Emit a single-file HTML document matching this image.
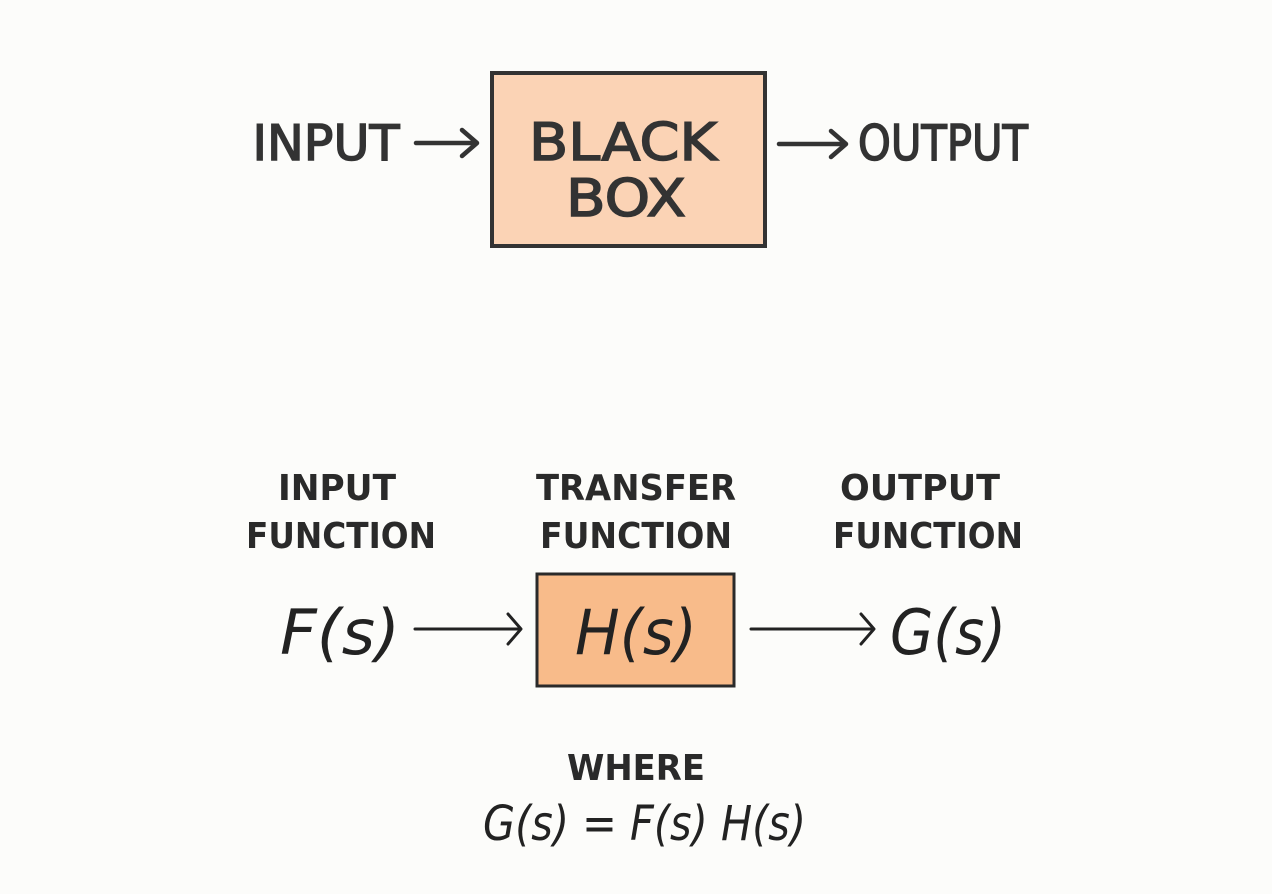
<!DOCTYPE html>
<html><head><meta charset="utf-8"><style>
html,body{margin:0;padding:0;background:#fcfcfa;}
svg{display:block}
</style></head><body>
<svg width="1272" height="894" viewBox="0 0 1272 894" xmlns="http://www.w3.org/2000/svg">
<rect width="1272" height="894" fill="#fcfcfa"/>
<g font-family="'DejaVu Sans','Liberation Sans',sans-serif" fill="#333" stroke="#333" stroke-width="1.5">
<text x="326" y="160" font-size="49" text-anchor="middle" textLength="147" lengthAdjust="spacingAndGlyphs">INPUT</text>
<text x="943" y="160" font-size="49" text-anchor="middle" textLength="170" lengthAdjust="spacingAndGlyphs">OUTPUT</text>
</g>
<rect x="492" y="73" width="273" height="173" fill="#fbd3b5" stroke="#333" stroke-width="4"/>
<g font-family="'DejaVu Sans','Liberation Sans',sans-serif" fill="#333" stroke="#333" stroke-width="1.5" font-size="52" text-anchor="middle">
<text x="623" y="160" textLength="188" lengthAdjust="spacingAndGlyphs">BLACK</text>
<text x="626" y="216" textLength="120" lengthAdjust="spacingAndGlyphs">BOX</text>
</g>
<g stroke="#333" stroke-width="4.5" fill="none" stroke-linecap="round" stroke-linejoin="round">
<path d="M416 143 H476 M462 130 L477 143 L462 156"/>
<path d="M779 144 H845 M831 131 L846 144 L831 157"/>
</g>
<g font-family="'DejaVu Sans','Liberation Sans',sans-serif" font-weight="bold" fill="#2a2a2a" font-size="36" text-anchor="middle">
<text x="337" y="500" textLength="118" lengthAdjust="spacingAndGlyphs">INPUT</text>
<text x="341" y="548" textLength="190" lengthAdjust="spacingAndGlyphs">FUNCTION</text>
<text x="636" y="500" textLength="200" lengthAdjust="spacingAndGlyphs">TRANSFER</text>
<text x="636" y="548" textLength="192" lengthAdjust="spacingAndGlyphs">FUNCTION</text>
<text x="920" y="500" textLength="160" lengthAdjust="spacingAndGlyphs">OUTPUT</text>
<text x="928" y="548" textLength="190" lengthAdjust="spacingAndGlyphs">FUNCTION</text>
<text x="636" y="780" textLength="138" lengthAdjust="spacingAndGlyphs">WHERE</text>
</g>
<rect x="537" y="574" width="197" height="112" fill="#f8bb8a" stroke="#2a2a2a" stroke-width="3"/>
<g font-family="'DejaVu Sans','Liberation Sans',sans-serif" font-style="italic" fill="#222" font-size="62">
<text x="280" y="654" textLength="120" lengthAdjust="spacingAndGlyphs">F(s)</text>
<text x="575" y="654" textLength="122" lengthAdjust="spacingAndGlyphs">H(s)</text>
<text x="890" y="654" textLength="116" lengthAdjust="spacingAndGlyphs">G(s)</text>
<text x="483" y="840" font-size="48" textLength="323" lengthAdjust="spacingAndGlyphs">G(s) = F(s) H(s)</text>
</g>
<g stroke="#222" stroke-width="3" fill="none" stroke-linecap="round" stroke-linejoin="round">
<path d="M415 629 H520 M508 614 L521 629 L508 644"/>
<path d="M751 629 H873 M861 614 L874 629 L861 644"/>
</g>
</svg>
</body></html>
